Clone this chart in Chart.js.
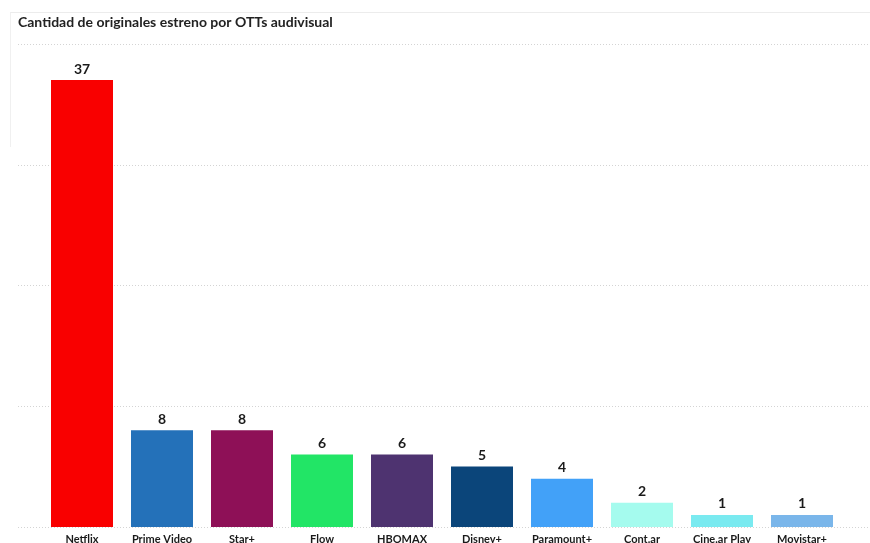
<!DOCTYPE html>
<html>
<head>
<meta charset="utf-8">
<script src="https://cdn.jsdelivr.net/npm/chart.js@4"></script>
<style>
  html, body { margin: 0; padding: 0; background: #fff; overflow: hidden; }
  #wrap { position: relative; width: 870px; height: 543px; overflow: hidden; }
  #frame { position: absolute; left: 10px; top: 12px; width: 860px; height: 134px;
           border-top: 1px solid #ececec; border-left: 1px solid #f0f0f0; }
  canvas { position: absolute; left: 0; top: 0; }
</style>
</head>
<body>
<div id="wrap">
  <div id="frame"></div>
  <canvas id="chart" width="870" height="550"></canvas>
</div>
<script>
const platforms = ["Netflix", "Prime Video", "Star+", "Flow", "HBOMAX", "Disney+", "Paramount+", "Cont.ar", "Cine.ar Play", "Movistar+"];
const originals = [37, 8, 8, 6, 6, 5, 4, 2, 1, 1];
const barColors = ["#f90000", "#2471b9", "#8e1057", "#22e566", "#4e3370", "#0b457a", "#42a1f8", "#a5fbee", "#7aeaf0", "#7ab6ea"];
const chartTitle = "Cantidad de originales estreno por OTTs audivisual";

const fontFamily = "Lato, 'Open Sans', sans-serif";

// dotted horizontal grid across the whole width
const dottedGrid = {
  id: "dottedGrid",
  beforeDatasetsDraw(chart) {
    const { ctx, scales: { y } } = chart;
    ctx.save();
    ctx.strokeStyle = "#d4d4d4";
    ctx.lineWidth = 1;
    ctx.setLineDash([1, 2]);
    y.ticks.forEach((t) => {
      const py = Math.round(y.getPixelForValue(t.value)) + 0.5;
      ctx.beginPath();
      ctx.moveTo(18, py);
      ctx.lineTo(chart.width, py);
      ctx.stroke();
    });
    ctx.restore();
  },
};

// value labels above bars
const valueLabels = {
  id: "valueLabels",
  afterDatasetsDraw(chart) {
    const { ctx } = chart;
    const meta = chart.getDatasetMeta(0);
    ctx.save();
    ctx.fillStyle = "#1a1a1a";
    ctx.font = "bold 14px " + fontFamily;
    ctx.textAlign = "center";
    ctx.textBaseline = "bottom";
    meta.data.forEach((bar, i) => {
      ctx.fillText(chart.data.datasets[0].data[i], bar.x, bar.y - 4);
    });
    ctx.restore();
  },
};

new Chart(document.getElementById("chart"), {
  type: "bar",
  data: {
    labels: platforms,
    datasets: [{
      label: chartTitle,
      data: originals,
      backgroundColor: barColors,
      categoryPercentage: 0.775,
      barPercentage: 1,
    }],
  },
  options: {
    responsive: false,
    animation: false,
    devicePixelRatio: 1,
    layout: { padding: { left: 18, right: 28, top: 4, bottom: 0 } },
    plugins: {
      legend: { display: false },
      tooltip: { enabled: false },
      title: {
        display: true,
        text: chartTitle,
        align: "start",
        color: "#222",
        font: { family: fontFamily, size: 14, weight: "bold" },
        padding: { top: 10, bottom: 13 },
      },
    },
    scales: {
      x: {
        grid: { display: false, drawTicks: false },
        border: { display: false },
        ticks: {
          color: "#1a1a1a",
          padding: 6,
          font: { family: fontFamily, size: 11, weight: "bold" },
          maxRotation: 0,
        },
        afterFit(scale) { scale.height = 23; },
      },
      y: {
        min: 0,
        max: 40,
        ticks: { stepSize: 10, display: false },
        grid: { display: false },
        border: { display: false },
        afterFit(scale) { scale.width = 24; },
      },
    },
  },
  plugins: [dottedGrid, valueLabels],
});
</script>
</body>
</html>
